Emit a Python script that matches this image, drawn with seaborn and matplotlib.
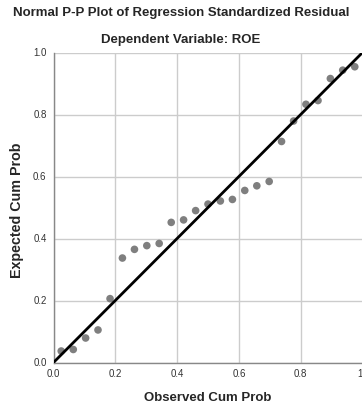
import matplotlib
matplotlib.use("Agg")
import matplotlib.pyplot as plt
import seaborn as sns
import pandas as pd

sns.set_style("white")
plt.rcParams['font.family'] = ['Liberation Sans', 'DejaVu Sans']

# observed cumulative probability (Blom positions, n = 25)
observed = [0.025, 0.064, 0.104, 0.144, 0.183, 0.223, 0.262, 0.302, 0.342, 0.381,
            0.421, 0.460, 0.500, 0.540, 0.579, 0.619, 0.658, 0.698, 0.738, 0.777,
            0.817, 0.856, 0.896, 0.936, 0.975]
# expected cumulative probability
expected = [0.037, 0.042, 0.079, 0.105, 0.206, 0.337, 0.365, 0.377, 0.384, 0.452,
            0.460, 0.490, 0.511, 0.521, 0.526, 0.555, 0.570, 0.584, 0.713, 0.779,
            0.833, 0.845, 0.916, 0.943, 0.954]
ref_line = [0.0, 1.0]
x_ticks = [0.0, 0.2, 0.4, 0.6, 0.8, 1.0]
x_tick_labels = ['0.0', '0.2', '0.4', '0.6', '0.8', '1']
y_ticks = [0.0, 0.2, 0.4, 0.6, 0.8, 1.0]
y_tick_labels = ['0.0', '0.2', '0.4', '0.6', '0.8', '1.0']

df = pd.DataFrame({'observed': observed, 'expected': expected})

fig = plt.figure(figsize=(3.62, 4.05), dpi=100)
ax = fig.add_axes([53.5 / 362, 1 - 362.5 / 405, 309 / 362, 310 / 405])

ax.grid(True, color='#cccccc', linewidth=1)
ax.set_axisbelow(True)
sns.scatterplot(x='observed', y='expected', data=df, ax=ax, color='#7f7f7f',
                s=30, edgecolor='none', zorder=3)
ax.plot(ref_line, ref_line, color='black', linewidth=2, zorder=4,
        solid_capstyle='butt')

ax.set_xlim(0, 1)
ax.set_ylim(0, 1)
ax.set_xticks(x_ticks)
ax.set_xticklabels(x_tick_labels)
ax.set_yticks(y_ticks)
ax.set_yticklabels(y_tick_labels)
ax.tick_params(axis='x', length=0, pad=5, labelsize=7, labelcolor='#333333')
ax.tick_params(axis='y', length=4, width=0.8, color='#888888', pad=1,
               labelsize=7, labelcolor='#333333')
# last x label sits at the figure edge, keep it inside
ax.get_xticklabels()[-1].set_ha('right')

for side in ['top', 'right']:
    ax.spines[side].set_visible(False)
for side in ['left', 'bottom']:
    ax.spines[side].set_color('#888888')
    ax.spines[side].set_linewidth(1)

ax.set_xlabel('Observed Cum Prob', fontsize=9.5, fontweight='bold', labelpad=9)
ax.set_ylabel('Expected Cum Prob', fontsize=10.3, fontweight='bold')
ax.yaxis.set_label_coords(-0.097, 0.49)

fig.text(0.5, 1 - 13 / 405, 'Normal P-P Plot of Regression Standardized Residual',
         ha='center', va='center', fontsize=9.5, fontweight='bold')
fig.text(0.5, 1 - 40 / 405, 'Dependent Variable: ROE',
         ha='center', va='center', fontsize=9.5, fontweight='bold')

fig.savefig('out.png', dpi=100)
